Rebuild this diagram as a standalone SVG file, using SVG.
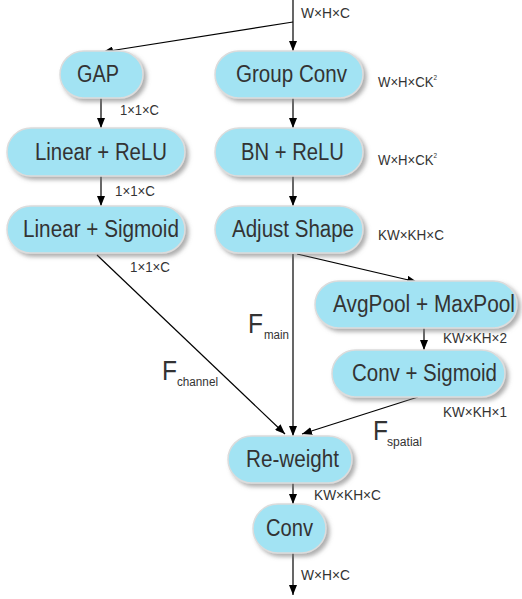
<svg xmlns="http://www.w3.org/2000/svg" width="522" height="599" viewBox="0 0 522 599">
<style>
.node rect{fill:#A2E3F3;stroke:#dcdcdc;stroke-width:1.5;filter:url(#sh)}
.node text{font-family:"Liberation Sans",Arial,sans-serif;font-size:23.5px;fill:#333}
text{font-family:"Liberation Sans",Arial,sans-serif;fill:#333}
.lbl{font-size:14.5px}
.F{font-size:28px}
.sub{font-size:12.5px}
.sup{font-size:7px}
#edges line{stroke:#000;stroke-width:1.2;marker-end:url(#ah)}
</style>
<defs>
<filter id="sh" x="-20%" y="-30%" width="140%" height="170%">
<feDropShadow dx="3" dy="3" stdDeviation="2" flood-color="#777" flood-opacity="0.6"/>
</filter>
<marker id="ah" markerWidth="10" markerHeight="8" refX="10" refY="4" orient="auto" markerUnits="userSpaceOnUse">
<path d="M0,0 L10,4 L0,8 Z" fill="#000"/>
</marker>
</defs>
<rect width="522" height="599" fill="#fff"/>
<g id="edges">
<line x1="293" y1="0" x2="293" y2="51"/>
<line x1="293" y1="22" x2="103" y2="52"/>
<line x1="101" y1="98" x2="101" y2="128"/>
<line x1="293" y1="98" x2="293" y2="128"/>
<line x1="101" y1="176" x2="101" y2="206"/>
<line x1="293" y1="176" x2="293" y2="206"/>
<line x1="97" y1="255" x2="285" y2="434"/>
<line x1="293" y1="254" x2="293" y2="436"/>
<line x1="297" y1="254" x2="417" y2="282"/>
<line x1="424" y1="328" x2="424" y2="350"/>
<line x1="418" y1="397" x2="302" y2="434"/>
<line x1="293" y1="483" x2="293" y2="504"/>
<line x1="293" y1="553" x2="293" y2="595"/>
</g>
<g id="gap" class="node"><rect x="60" y="51" width="83" height="47" rx="23.5"/><text x="77" y="82" textLength="42" lengthAdjust="spacingAndGlyphs">GAP</text></g>
<g id="groupconv" class="node"><rect x="215" y="51" width="148" height="47" rx="23.5"/><text x="236" y="82" textLength="111" lengthAdjust="spacingAndGlyphs">Group Conv</text></g>
<g id="linrelu" class="node"><rect x="7" y="128" width="178" height="48" rx="24"/><text x="35" y="159.5" textLength="132" lengthAdjust="spacingAndGlyphs">Linear + ReLU</text></g>
<g id="bnrelu" class="node"><rect x="215" y="128" width="148" height="48" rx="24"/><text x="241" y="159.5" textLength="103" lengthAdjust="spacingAndGlyphs">BN + ReLU</text></g>
<g id="linsig" class="node"><rect x="7" y="206" width="178" height="47" rx="23.5"/><text x="23" y="237" textLength="156" lengthAdjust="spacingAndGlyphs">Linear + Sigmoid</text></g>
<g id="adjust" class="node"><rect x="215" y="206" width="148" height="47" rx="23.5"/><text x="232" y="237" textLength="122" lengthAdjust="spacingAndGlyphs">Adjust Shape</text></g>
<g id="pool" class="node"><rect x="315" y="281" width="202" height="47" rx="23.5"/><text x="333" y="312" textLength="182" lengthAdjust="spacingAndGlyphs">AvgPool + MaxPool</text></g>
<g id="convsig" class="node"><rect x="332" y="350" width="173" height="47" rx="23.5"/><text x="352" y="381" textLength="145" lengthAdjust="spacingAndGlyphs">Conv + Sigmoid</text></g>
<g id="reweight" class="node"><rect x="228" y="436" width="124" height="47" rx="23.5"/><text x="246" y="467" textLength="93" lengthAdjust="spacingAndGlyphs">Re-weight</text></g>
<g id="conv" class="node"><rect x="253" y="504" width="73" height="49" rx="24.5"/><text x="266" y="536" textLength="47" lengthAdjust="spacingAndGlyphs">Conv</text></g>
<g id="labels">
<text class="lbl" x="301" y="18" textLength="49" lengthAdjust="spacingAndGlyphs">W×H×C</text>
<text class="lbl" x="378" y="87" textLength="59" lengthAdjust="spacingAndGlyphs">W×H×CK<tspan class="sup" dy="-7">2</tspan></text>
<text class="lbl" x="120" y="115" textLength="39" lengthAdjust="spacingAndGlyphs">1×1×C</text>
<text class="lbl" x="115" y="196" textLength="40" lengthAdjust="spacingAndGlyphs">1×1×C</text>
<text class="lbl" x="378" y="165" textLength="59" lengthAdjust="spacingAndGlyphs">W×H×CK<tspan class="sup" dy="-7">2</tspan></text>
<text class="lbl" x="378" y="240" textLength="66" lengthAdjust="spacingAndGlyphs">KW×KH×C</text>
<text class="lbl" x="130" y="272" textLength="40" lengthAdjust="spacingAndGlyphs">1×1×C</text>
<text class="lbl" x="443" y="343" textLength="64" lengthAdjust="spacingAndGlyphs">KW×KH×2</text>
<text class="lbl" x="443" y="417" textLength="64" lengthAdjust="spacingAndGlyphs">KW×KH×1</text>
<text class="lbl" x="314" y="500" textLength="67" lengthAdjust="spacingAndGlyphs">KW×KH×C</text>
<text class="lbl" x="301" y="580" textLength="49" lengthAdjust="spacingAndGlyphs">W×H×C</text>
<text class="F" x="248" y="333" textLength="15" lengthAdjust="spacingAndGlyphs">F</text><text class="sub" x="264" y="339" textLength="25" lengthAdjust="spacingAndGlyphs">main</text>
<text class="F" x="162" y="380" textLength="15" lengthAdjust="spacingAndGlyphs">F</text><text class="sub" x="177" y="386" textLength="41" lengthAdjust="spacingAndGlyphs">channel</text>
<text class="F" x="373" y="440" textLength="15" lengthAdjust="spacingAndGlyphs">F</text><text class="sub" x="387" y="446" textLength="35" lengthAdjust="spacingAndGlyphs">spatial</text>
</g>
</svg>
